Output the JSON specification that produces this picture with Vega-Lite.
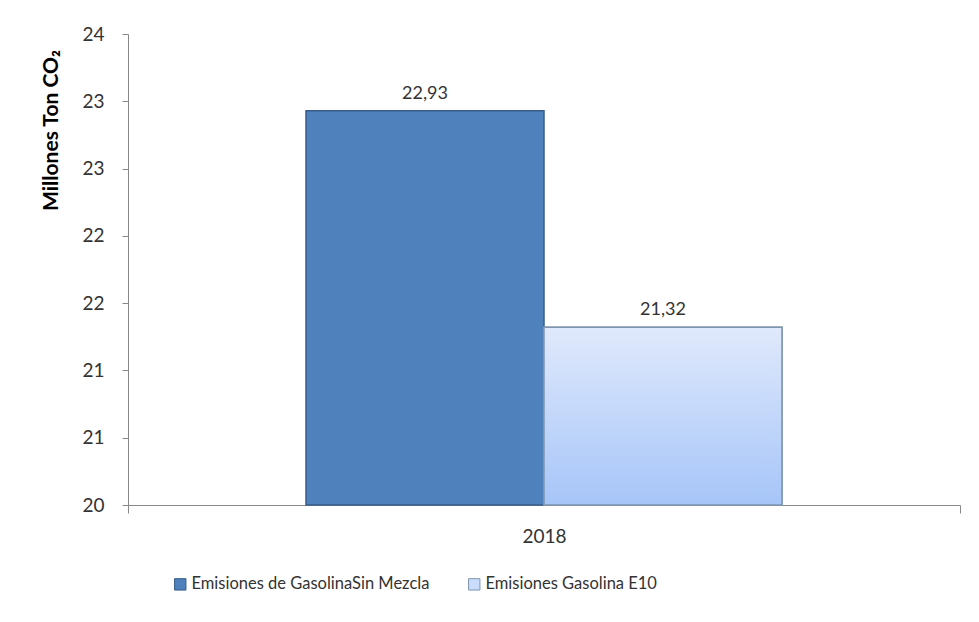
{
  "$schema": "https://vega.github.io/schema/vega-lite/v6.json",
  "autosize": {"type": "none"},
  "padding": {"left": 128, "top": 34, "right": 19, "bottom": 117},
  "width": 832,
  "height": 471,
  "background": "#ffffff",
  "config": {
    "font": "Lato",
    "view": {"stroke": null},
    "locale": {"number": {"decimal": ",", "thousands": ".", "grouping": [3], "currency": ["", " €"]}}
  },
  "data": {
    "values": [
      {"year": "2018", "serie": "Emisiones de GasolinaSin Mezcla", "valor": 22.93},
      {"year": "2018", "serie": "Emisiones Gasolina E10", "valor": 21.32}
    ]
  },
  "encoding": {
    "x": {
      "field": "year", "type": "nominal",
      "scale": {"paddingInner": 0, "paddingOuter": 0},
      "axis": {
        "title": null, "labelAngle": 0, "labelFontSize": 19, "labelColor": "#333333",
        "tickBand": "extent", "tickSize": 8, "tickColor": "#888888", "domainColor": "#888888",
        "labelPadding": 14
      }
    },
    "xOffset": {
      "field": "serie", "type": "nominal",
      "scale": {"domain": ["Emisiones de GasolinaSin Mezcla", "Emisiones Gasolina E10"], "paddingInner": 0, "paddingOuter": 0.748}
    },
    "y": {
      "field": "valor", "type": "quantitative",
      "scale": {"domain": [20, 23.5], "zero": false, "nice": false},
      "axis": {
        "title": "Millones Ton CO₂", "titleFont": "Lato", "titleFontSize": 21, "titleFontWeight": "bold", "titleColor": "#000000",
        "titleAngle": 270, "titleAlign": "center", "titleBaseline": "middle", "titleX": -77, "titleY": 96,
        "values": [20, 20.5, 21, 21.5, 22, 22.5, 23, 23.5], "format": ".0f",
        "labelFontSize": 19, "labelColor": "#333333", "labelPadding": 18,
        "tickSize": 6, "tickColor": "#888888", "domainColor": "#888888", "grid": false
      }
    },
    "y2": {"datum": 20}
  },
  "layer": [
    {
      "mark": {"type": "bar", "strokeWidth": 1.5},
      "encoding": {
        "color": {
          "field": "serie", "type": "nominal",
          "scale": {"domain": ["Emisiones de GasolinaSin Mezcla", "Emisiones Gasolina E10"], "range": ["#4F81BD", "#CADCFB"]},
          "legend": {
            "title": null, "orient": "none", "direction": "horizontal", "legendX": 44, "legendY": 542,
            "symbolType": "square", "symbolSize": 130, "symbolStrokeWidth": 1, "symbolOpacity": 1,
            "labelFontSize": 16.5, "labelColor": "#333333", "columnPadding": 36, "labelOffset": 3, "labelLimit": 500
          }
        },
        "stroke": {
          "field": "serie", "type": "nominal",
          "scale": {"domain": ["Emisiones de GasolinaSin Mezcla", "Emisiones Gasolina E10"], "range": ["#385D8A", "#7F95AE"]},
          "legend": {
            "title": null, "orient": "none", "direction": "horizontal", "legendX": 44, "legendY": 542,
            "symbolType": "square", "symbolSize": 130, "symbolStrokeWidth": 1,
            "labelFontSize": 16.5, "labelColor": "#333333", "columnPadding": 36, "labelOffset": 3, "labelLimit": 500
          }
        }
      }
    },
    {
      "transform": [{"filter": "datum.serie === 'Emisiones Gasolina E10'"}],
      "mark": {
        "type": "bar", "strokeWidth": 1.5, "stroke": "#7F95AE",
        "fill": {"gradient": "linear", "x1": 0, "y1": 0, "x2": 0, "y2": 1,
          "stops": [{"offset": 0, "color": "#E0E9FC"}, {"offset": 1, "color": "#A6C5F8"}]}
      },
      "encoding": {}
    },
    {
      "mark": {"type": "text", "baseline": "bottom", "dy": -8, "fontSize": 18, "color": "#333333"},
      "encoding": {
        "y": {"field": "valor", "type": "quantitative"},
        "text": {"field": "valor", "type": "quantitative", "format": ".2f"}
      }
    }
  ]
}
